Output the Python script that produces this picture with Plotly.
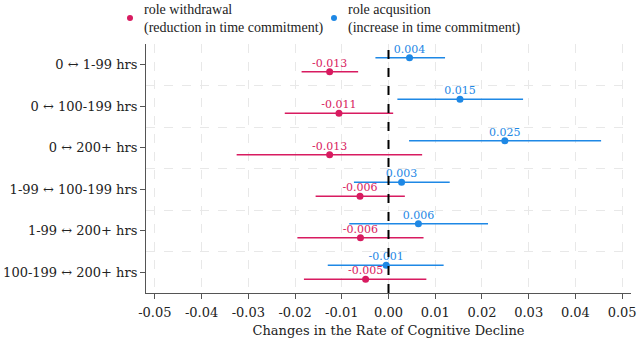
import plotly.graph_objects as go

categories = ["0 ↔ 1-99 hrs", "0 ↔ 100-199 hrs", "0 ↔ 200+ hrs",
              "1-99 ↔ 100-199 hrs", "1-99 ↔ 200+ hrs", "100-199 ↔ 200+ hrs"]

# role withdrawal (red)
wd_est = [-0.0126, -0.0106, -0.0126, -0.0061, -0.0060, -0.0049]
wd_lo = [-0.0186, -0.0222, -0.0325, -0.0156, -0.0195, -0.0181]
wd_hi = [-0.0065, 0.0010, 0.0072, 0.0035, 0.0075, 0.0081]
wd_lab = ["-0.013", "-0.011", "-0.013", "-0.006", "-0.006", "-0.005"]

# role acquisition (blue)
aq_est = [0.0045, 0.0153, 0.0249, 0.0028, 0.0064, -0.0005]
aq_lo = [-0.0028, 0.0019, 0.0044, -0.0074, -0.0084, -0.0130]
aq_hi = [0.0121, 0.0288, 0.0455, 0.0131, 0.0213, 0.0118]
aq_lab = ["0.004", "0.015", "0.025", "0.003", "0.006", "-0.001"]

xticks = [-0.05, -0.04, -0.03, -0.02, -0.01, 0.0, 0.01, 0.02, 0.03, 0.04, 0.05]
xticklabels = ["-0.05", "-0.04", "-0.03", "-0.02", "-0.01", "0.00", "0.01", "0.02", "0.03", "0.04", "0.05"]

legend_lines = [["role withdrawal", "(reduction in time commitment)"],
                ["role acqusition", "(increase in time commitment)"]]

RED = "#D81B60"
BLUE = "#1E88E5"
FONT = "DejaVu Serif"
LEGFONT = "Liberation Serif"
OFF = 0.17
LABOFF = 0.19

W, H = 642, 343
ML, MR, MT, MB = 146, 11, 44, 50
PW, PH = W - ML - MR, H - MT - MB

def px_x(px):
    return (px - ML) / PW

def px_y(py):
    return 1 - (py - MT) / PH

pos = list(range(len(categories)))

fig = go.Figure()

def add_series(est, lo, hi, lab, color, off):
    ys = [p + off for p in pos]
    fig.add_trace(go.Scatter(
        x=est, y=ys, mode="markers", showlegend=False,
        marker=dict(color=color, size=7),
        error_x=dict(type="data", symmetric=False,
                     array=[h - e for h, e in zip(hi, est)],
                     arrayminus=[e - l for e, l in zip(est, lo)],
                     color=color, thickness=1.6, width=0),
    ))
    fig.add_trace(go.Scatter(
        x=est, y=[y - LABOFF for y in ys], mode="text", showlegend=False,
        text=lab, textposition="middle center",
        textfont=dict(color=color, size=11, family=FONT),
        cliponaxis=False,
    ))

add_series(wd_est, wd_lo, wd_hi, wd_lab, RED, OFF)
add_series(aq_est, aq_lo, aq_hi, aq_lab, BLUE, -OFF)

fig.add_shape(type="line", x0=0, x1=0, y0=0, y1=1, xref="x", yref="paper",
              line=dict(color="black", width=2, dash="dash"), layer="above")

# manual legend
for (mx, tx), color, lines in zip([(130, 143), (334, 347)], [RED, BLUE], legend_lines):
    fig.add_shape(type="circle", xref="paper", yref="paper",
                  xsizemode="pixel", ysizemode="pixel",
                  xanchor=px_x(mx), yanchor=px_y(18),
                  x0=-3, x1=3, y0=-3, y1=3,
                  fillcolor=color, line=dict(width=0))
    fig.add_annotation(text="<br>".join(lines), xref="paper", yref="paper",
                       x=px_x(tx), y=px_y(19), align="left",
                       xanchor="left", yanchor="middle", showarrow=False,
                       borderpad=0,
                       font=dict(size=14, family=LEGFONT, color="#222"))

fig.update_layout(
    width=W, height=H,
    margin=dict(l=ML, r=MR, t=MT, b=MB, autoexpand=False),
    paper_bgcolor="white", plot_bgcolor="white",
    font=dict(family=FONT, size=13, color="#222"),
    showlegend=False,
    xaxis=dict(range=[-0.0519, 0.0519], tickvals=xticks, ticktext=xticklabels,
               showgrid=True, gridcolor="#e8e8e8", griddash="dash", gridwidth=1,
               zeroline=False, showline=True, linecolor="#555", linewidth=1,
               ticks="outside", ticklen=5, tickcolor="#555",
               ticklabelstandoff=2,
               tickfont=dict(size=13),
               title=dict(text="Changes in the Rate of Cognitive Decline",
                          font=dict(size=13), standoff=7)),
    yaxis=dict(range=[5.5, -0.5], tickvals=pos, ticktext=categories,
               showgrid=False, zeroline=False, showline=True, linecolor="#555",
               linewidth=1, ticks="outside", ticklen=5, tickcolor="#555",
               tickfont=dict(size=13),
               minor=dict(tickvals=[0.5, 1.5, 2.5, 3.5, 4.5], showgrid=True,
                          gridcolor="#e8e8e8", griddash="dash", gridwidth=1,
                          ticks="")),
)

fig.write_html("out.html")
